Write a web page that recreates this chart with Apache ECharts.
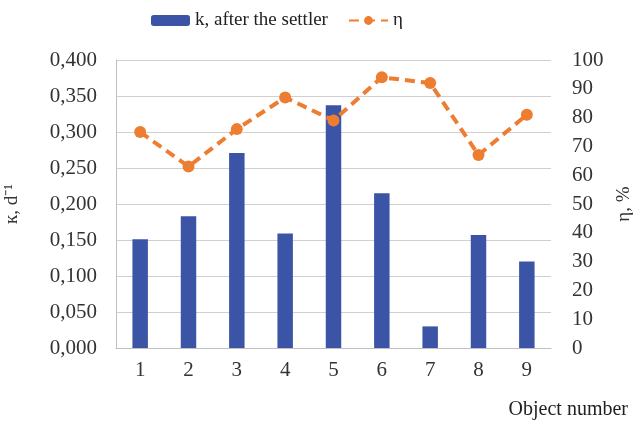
<!DOCTYPE html>
<html>
<head>
    <meta charset="UTF-8">
    <title>k and η by object</title>
    <script src="https://cdn.jsdelivr.net/npm/echarts@6/dist/echarts.min.js"></script>
</head>
<body style="margin: 0">
    <div id="container" style="width: 639px; height: 421px"></div>
    <script type="text/javascript">
        var objects = ['1', '2', '3', '4', '5', '6', '7', '8', '9'];
        var kValues = [0.151, 0.183, 0.271, 0.159, 0.337, 0.215, 0.030, 0.157, 0.120];
        var etaValues = [75, 63, 76, 87, 79, 94, 92, 67, 81];

        var serif = 'Liberation Serif';
        var textColor = '#333';

        var myChart = echarts.init(document.getElementById('container'));
        var option = {
            animation: false,
            textStyle: { fontFamily: serif },
            legend: {
                top: 6,
                left: 146,
                itemWidth: 39,
                itemHeight: 11,
                itemGap: 20,
                textStyle: { fontFamily: serif, fontSize: 19, color: '#222' },
                data: ['k, after the settler', 'η']
            },
            grid: { left: 116, right: 88, top: 60, bottom: 73, outerBoundsMode: 'none' },
            xAxis: {
                type: 'category',
                data: objects,
                name: 'Object number',
                nameLocation: 'end',
                nameGap: 77,
                nameTextStyle: {
                    fontFamily: serif, fontSize: 20, color: '#222',
                    align: 'right', verticalAlign: 'top', padding: [52, 0, 0, 0]
                },
                axisLine: { lineStyle: { color: '#bfbfbf' } },
                axisTick: { show: false },
                axisLabel: { fontFamily: serif, fontSize: 21, color: textColor, margin: 12 }
            },
            yAxis: [{
                type: 'value',
                min: 0,
                max: 0.4,
                interval: 0.05,
                name: 'к, d⁻¹',
                nameLocation: 'middle',
                nameGap: 94,
                nameTextStyle: { fontFamily: serif, fontSize: 19, color: '#333' },
                axisLine: { show: true, lineStyle: { color: '#bfbfbf' } },
                splitLine: { lineStyle: { color: '#d0d0d0' } },
                axisLabel: {
                    fontFamily: serif, fontSize: 21, color: textColor, margin: 19,
                    formatter: function (v) { return v.toFixed(3).replace('.', ','); }
                }
            }, {
                type: 'value',
                min: 0,
                max: 100,
                interval: 10,
                position: 'right',
                name: 'η, %',
                nameLocation: 'middle',
                nameGap: 62,
                nameRotate: 90,
                nameTextStyle: { fontFamily: serif, fontSize: 19, color: '#333' },
                axisLine: { show: false },
                splitLine: { show: false },
                axisLabel: { fontFamily: serif, fontSize: 21, color: textColor, margin: 21 }
            }],
            series: [{
                name: 'k, after the settler',
                type: 'bar',
                data: kValues,
                barWidth: '32%',
                itemStyle: { color: '#3B54A5' }
            }, {
                name: 'η',
                type: 'line',
                yAxisIndex: 1,
                data: etaValues,
                symbol: 'circle',
                symbolSize: 12,
                itemStyle: { color: '#ED7D31' },
                lineStyle: { color: '#ED7D31', width: 4, type: [10, 6] }
            }]
        };
        myChart.setOption(option);
    </script>
</body>
</html>
